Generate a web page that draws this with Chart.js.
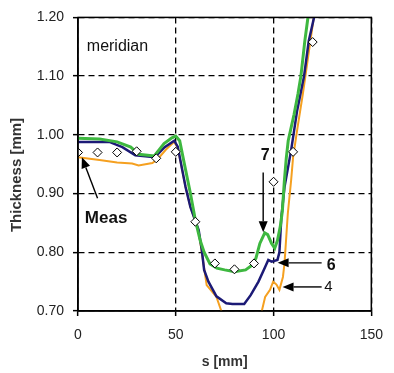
<!DOCTYPE html>
<html>
<head>
<meta charset="utf-8">
<script src="https://cdn.jsdelivr.net/npm/chart.js@4"></script>
<style>
  html, body { margin: 0; padding: 0; background: #fff; }
  #wrap { width: 394px; height: 373px; }
</style>
</head>
<body>
<div id="wrap"><canvas id="chart"></canvas></div>
<script>
(function () {
    'use strict';

    // measured points (diamonds)
    const measS = [0, 10, 20, 30, 40, 50, 60, 70, 80, 90, 100, 110, 120];
    const measT = [0.97, 0.97, 0.97, 0.972, 0.96, 0.971, 0.852, 0.781, 0.771, 0.781, 0.92, 0.971, 1.158];

    // curve 7 (green)
    const s7 = [0, 11, 20, 27, 31, 39, 44, 48, 50, 52, 54, 57.5, 60, 62.5, 64.5, 67.5, 71, 75, 80, 85.7, 89, 91, 93, 95.5, 97, 99, 100.6, 102, 103.5, 104.5, 105.5, 106.5, 107.5, 110.5, 112.5, 114, 116, 118];
    const t7 = [0.994, 0.993, 0.988, 0.979, 0.967, 0.964, 0.985, 0.995, 0.998, 0.99, 0.957, 0.90, 0.855, 0.82, 0.80, 0.78, 0.773, 0.77, 0.767, 0.77, 0.778, 0.79, 0.815, 0.833, 0.83, 0.815, 0.807, 0.82, 0.845, 0.87, 0.92, 0.96, 0.99, 1.035, 1.07, 1.10, 1.16, 1.21];

    // curve 6 (navy)
    const s6 = [0, 16, 22.7, 29.3, 39.3, 44.3, 49.2, 51, 55, 57.5, 61.7, 63.3, 64.5, 66.7, 70.8, 75.8, 79, 85, 88.3, 92.3, 95.7, 97.3, 99, 102, 103, 104, 105.6, 109, 112, 115.6, 118, 121.4];
    const t6 = [0.988, 0.988, 0.979, 0.965, 0.962, 0.979, 0.99, 0.98, 0.911, 0.877, 0.838, 0.804, 0.77, 0.75, 0.725, 0.713, 0.712, 0.712, 0.727, 0.75, 0.775, 0.787, 0.784, 0.787, 0.80, 0.86, 0.911, 0.974, 1.04, 1.10, 1.16, 1.21];

    // curve 4 (orange)
    const s4 = [0, 11, 20, 27.7, 31, 38, 40.6, 45, 49.2, 51, 55, 57.5, 61.7, 63.3, 65.8, 70.8, 73.3, 75, 80, 85, 90, 93, 94, 95.7, 98.2, 99.8, 101.5, 103, 104.8, 105.6, 107.3, 109, 110, 112.3, 115, 118, 121];
    const t4 = [0.962, 0.957, 0.953, 0.951, 0.948, 0.952, 0.958, 0.975, 0.988, 0.978, 0.911, 0.877, 0.836, 0.80, 0.744, 0.724, 0.70, 0.68, 0.66, 0.66, 0.67, 0.69, 0.70, 0.724, 0.736, 0.75, 0.745, 0.736, 0.758, 0.781, 0.866, 0.923, 0.962, 1.013, 1.07, 1.14, 1.21];

    const xTicks = [0, 50, 100, 150];
    const yTicks = [0.70, 0.80, 0.90, 1.00, 1.10, 1.20];

    const GREEN = 'rgb(62, 184, 64)';
    const NAVY = 'rgb(28, 26, 118)';
    const ORANGE = 'rgb(245, 160, 32)';

    function pts(xs, ys) {
        return xs.map((x, i) => ({ x: x, y: ys[i] }));
    }

    function curve(label, xs, ys, color, width) {
        return {
            label: label,
            data: pts(xs, ys),
            borderColor: color,
            backgroundColor: color,
            borderWidth: width,
            pointRadius: 0,
            tension: 0,
            fill: false,
        };
    }

    // annotations in data coordinates
    const notes = [
        { text: 'meridian', x: 4.5, y: 1.151, font: '16px "Liberation Sans", Arial, sans-serif', align: 'left' },
        { text: 'Meas', x: 3.5, y: 0.858, font: 'bold 17px "Liberation Sans", Arial, sans-serif', align: 'left' },
        { text: '7', x: 95.7, y: 0.965, font: 'bold 16px "Liberation Sans", Arial, sans-serif', align: 'center' },
        { text: '6', x: 129.5, y: 0.778, font: 'bold 16px "Liberation Sans", Arial, sans-serif', align: 'center' },
        { text: '4', x: 128, y: 0.741, font: '15px "Liberation Sans", Arial, sans-serif', align: 'center' },
    ];
    const arrows = [
        { from: [10, 0.892], to: [2, 0.962] },
        { from: [94.7, 0.936], to: [94.7, 0.834] },
        { from: [124.6, 0.782], to: [102.1, 0.782] },
        { from: [124.6, 0.741], to: [104.6, 0.741] },
    ];

    const extras = {
        id: 'extras',
        afterDraw(chart) {
            const ctx = chart.ctx;
            const a = chart.chartArea;
            const xs = chart.scales.x, ys = chart.scales.y;
            ctx.save();
            // frame
            ctx.strokeStyle = '#000';
            ctx.lineWidth = 1.5;
            ctx.strokeRect(a.left, a.top, a.right - a.left, a.bottom - a.top);

            // arrows
            arrows.forEach(ar => {
                const x1 = xs.getPixelForValue(ar.from[0]), y1 = ys.getPixelForValue(ar.from[1]);
                const x2 = xs.getPixelForValue(ar.to[0]), y2 = ys.getPixelForValue(ar.to[1]);
                const ang = Math.atan2(y2 - y1, x2 - x1);
                const len = 11, hw = 4.5;
                const bx = x2 - len * Math.cos(ang), by = y2 - len * Math.sin(ang);
                ctx.strokeStyle = '#000';
                ctx.lineWidth = 1.4;
                ctx.beginPath();
                ctx.moveTo(x1, y1);
                ctx.lineTo(bx, by);
                ctx.stroke();
                ctx.fillStyle = '#000';
                ctx.beginPath();
                ctx.moveTo(x2, y2);
                ctx.lineTo(bx + hw * Math.sin(ang), by - hw * Math.cos(ang));
                ctx.lineTo(bx - hw * Math.sin(ang), by + hw * Math.cos(ang));
                ctx.closePath();
                ctx.fill();
            });

            // labels
            ctx.fillStyle = '#111';
            ctx.textBaseline = 'middle';
            notes.forEach(n => {
                ctx.font = n.font;
                ctx.textAlign = n.align;
                ctx.fillText(n.text, xs.getPixelForValue(n.x), ys.getPixelForValue(n.y));
            });

            // y axis title
            ctx.translate(17, 175);
            ctx.rotate(-Math.PI / 2);
            ctx.font = 'bold 15px "Liberation Sans", Arial, sans-serif';
            ctx.fillStyle = '#333';
            ctx.textAlign = 'center';
            ctx.fillText('Thickness [mm]', 0, 0);
            ctx.restore();
        }
    };

    const tickFont = { family: '"Liberation Sans", Arial, sans-serif', size: 14 };

    new Chart(document.getElementById('chart'), {
        type: 'line',
        data: {
            datasets: [
                {
                    label: 'Meas',
                    data: pts(measS, measT),
                    showLine: false,
                    pointStyle: 'rectRot',
                    pointRadius: 4.5,
                    pointBackgroundColor: '#fff',
                    pointBorderColor: '#000',
                    pointBorderWidth: 1,
                    order: 0,
                },
                Object.assign(curve('7', s7, t7, GREEN, 3), { order: 1 }),
                Object.assign(curve('6', s6, t6, NAVY, 2.5), { order: 2 }),
                Object.assign(curve('4', s4, t4, ORANGE, 2), { order: 3 }),
            ]
        },
        options: {
            responsive: true,
            maintainAspectRatio: false,
            animation: false,
            layout: { padding: { top: 17, right: 15, left: 0, bottom: 0 } },
            plugins: {
                legend: { display: false },
                tooltip: { enabled: false },
            },
            scales: {
                x: {
                    type: 'linear',
                    min: 0,
                    max: 150,
                    afterBuildTicks: s => { s.ticks = xTicks.map(v => ({ value: v })); },
                    afterFit: s => { s.height = 62; },
                    ticks: { font: tickFont, color: '#222', padding: 11 },
                    grid: { color: '#000', lineWidth: 1.3, tickLength: 5, tickBorderDash: [], tickWidth: 1.5 },
                    border: { color: '#000', width: 1.5, dash: [6, 4] },
                    title: {
                        display: true,
                        text: 's [mm]',
                        color: '#333',
                        font: { family: '"Liberation Sans", Arial, sans-serif', size: 14, weight: 'bold' },
                        padding: { top: 0, bottom: 2 },
                    },
                },
                y: {
                    min: 0.70,
                    max: 1.20,
                    afterBuildTicks: s => { s.ticks = yTicks.map(v => ({ value: v })); },
                    afterFit: s => { s.width = 78; },
                    ticks: { font: tickFont, color: '#222', padding: 9, callback: v => v.toFixed(2) },
                    grid: { color: '#000', lineWidth: 1.3, tickLength: 5, tickBorderDash: [], tickWidth: 1.5 },
                    border: { color: '#000', width: 1.5, dash: [6, 4] },
                },
            },
        },
        plugins: [extras],
    });
})();
</script>
</body>
</html>
